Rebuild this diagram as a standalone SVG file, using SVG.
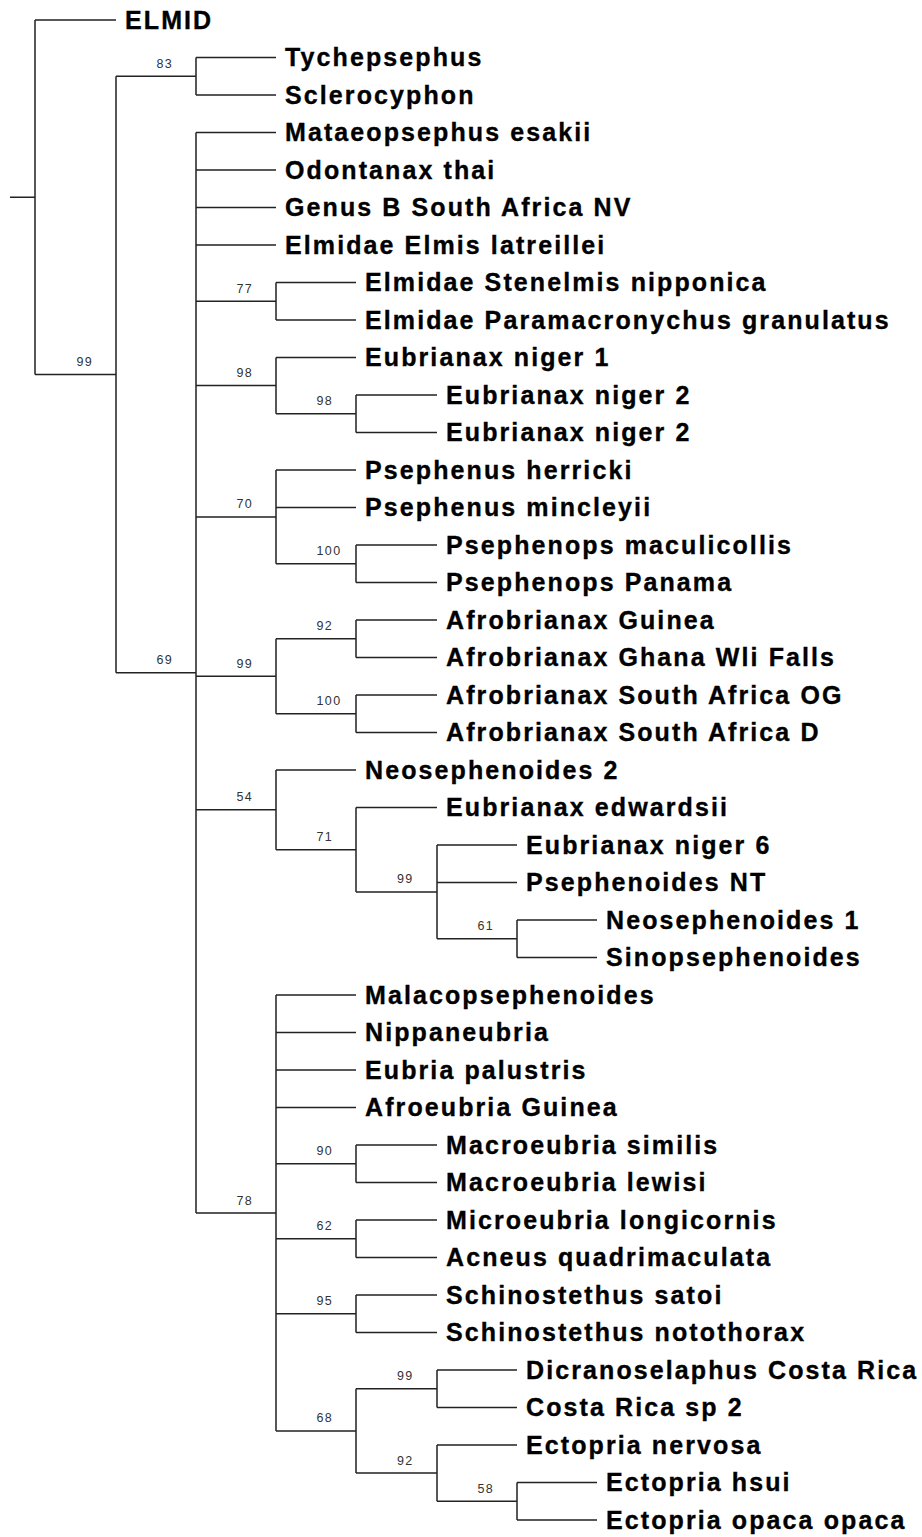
<svg xmlns="http://www.w3.org/2000/svg" width="922" height="1537" viewBox="0 0 922 1537">
<style>
.bg{fill:#fff}
.br{fill:none;stroke:#222;stroke-width:1.5}
.tx{font-family:"Liberation Sans",Arial,sans-serif;font-weight:bold;font-size:25px;letter-spacing:2.1px;fill:#000;stroke:#000;stroke-width:0.35}
.bs{font-family:"Liberation Sans",Arial,sans-serif;font-size:12.5px;letter-spacing:1.4px;fill:#333}
</style>
<rect class="bg" x="0" y="0" width="922" height="1537"/>
<g id="connectors" class="br">
<path d="M10 197.25H35M35 20V374.5M35 20H116M35 374.5H116"/>
<path d="M116 76.25V672.75M116 76.25H196M116 672.75H196"/>
<path d="M196 57.5V95M196 57.5H276M196 95H276"/>
<path d="M196 132.5V1213M196 132.5H276M196 170H276M196 207.5H276M196 245H276M196 301.25H276M196 385.6H276M196 516.9H276M196 676.25H276M196 809.8H276M196 1213H276"/>
<path d="M276 282.5V320M276 282.5H356M276 320H356"/>
<path d="M276 357.5V413.75M276 357.5H356M276 413.75H356"/>
<path d="M356 395V432.5M356 395H437M356 432.5H437"/>
<path d="M276 470V563.75M276 470H356M276 507.5H356M276 563.75H356"/>
<path d="M356 545V582.5M356 545H437M356 582.5H437"/>
<path d="M276 638.75V713.75M276 638.75H356M276 713.75H356"/>
<path d="M356 620V657.5M356 620H437M356 657.5H437"/>
<path d="M356 695V732.5M356 695H437M356 732.5H437"/>
<path d="M276 770V849.7M276 770H356M276 849.7H356"/>
<path d="M356 807.5V891.9M356 807.5H437M356 891.9H437"/>
<path d="M437 845V938.75M437 845H517M437 882.5H517M437 938.75H517"/>
<path d="M517 920V957.5M517 920H597M517 957.5H597"/>
<path d="M276 995V1430.9M276 995H356M276 1032.5H356M276 1070H356M276 1107.5H356M276 1163.75H356M276 1238.75H356M276 1313.75H356M276 1430.9H356"/>
<path d="M356 1145V1182.5M356 1145H437M356 1182.5H437"/>
<path d="M356 1220V1257.5M356 1220H437M356 1257.5H437"/>
<path d="M356 1295V1332.5M356 1295H437M356 1332.5H437"/>
<path d="M356 1388.75V1473.1M356 1388.75H437M356 1473.1H437"/>
<path d="M437 1370V1407.5M437 1370H517M437 1407.5H517"/>
<path d="M437 1445V1501.25M437 1445H517M437 1501.25H517"/>
<path d="M517 1482.5V1520M517 1482.5H597M517 1520H597"/>
</g>
<g id="support-labels" class="bs">
<g id="n-root-in"><text x="76.5" y="366">99</text></g>
<g id="n83"><text x="156.5" y="67.75">83</text></g>
<g id="n69"><text x="156.5" y="664.25">69</text></g>
<g id="n77"><text x="236.5" y="292.75">77</text></g>
<g id="n98a"><text x="236.5" y="377.1">98</text></g>
<g id="n98b"><text x="316.5" y="405.25">98</text></g>
<g id="n70"><text x="236.5" y="508.4">70</text></g>
<g id="n100a"><text x="316.5" y="555.25">100</text></g>
<g id="n99a"><text x="236.5" y="667.75">99</text></g>
<g id="n92a"><text x="316.5" y="630.25">92</text></g>
<g id="n100b"><text x="316.5" y="705.25">100</text></g>
<g id="n54"><text x="236.5" y="801.3">54</text></g>
<g id="n71"><text x="316.5" y="841.2">71</text></g>
<g id="n99c"><text x="397" y="883.4">99</text></g>
<g id="n61"><text x="477.5" y="930.25">61</text></g>
<g id="n78"><text x="236.5" y="1204.5">78</text></g>
<g id="n90"><text x="316.5" y="1155.25">90</text></g>
<g id="n62"><text x="316.5" y="1230.25">62</text></g>
<g id="n95"><text x="316.5" y="1305.25">95</text></g>
<g id="n68"><text x="316.5" y="1422.4">68</text></g>
<g id="n99d"><text x="397" y="1380.25">99</text></g>
<g id="n92b"><text x="397" y="1464.6">92</text></g>
<g id="n58"><text x="477.5" y="1492.75">58</text></g>
</g>
<g id="leaves" class="tx">
<g id="t0"><text x="125" y="28.5">ELMID</text></g>
<g id="t1"><text x="285" y="66">Tychepsephus</text></g>
<g id="t2"><text x="285" y="103.5">Sclerocyphon</text></g>
<g id="t3"><text x="285" y="141">Mataeopsephus esakii</text></g>
<g id="t4"><text x="285" y="178.5">Odontanax thai</text></g>
<g id="t5"><text x="285" y="216">Genus B South Africa NV</text></g>
<g id="t6"><text x="285" y="253.5">Elmidae Elmis latreillei</text></g>
<g id="t7"><text x="365" y="291">Elmidae Stenelmis nipponica</text></g>
<g id="t8"><text x="365" y="328.5">Elmidae Paramacronychus granulatus</text></g>
<g id="t9"><text x="365" y="366">Eubrianax niger 1</text></g>
<g id="t10"><text x="446" y="403.5">Eubrianax niger 2</text></g>
<g id="t11"><text x="446" y="441">Eubrianax niger 2</text></g>
<g id="t12"><text x="365" y="478.5">Psephenus herricki</text></g>
<g id="t13"><text x="365" y="516">Psephenus mincleyii</text></g>
<g id="t14"><text x="446" y="553.5">Psephenops maculicollis</text></g>
<g id="t15"><text x="446" y="591">Psephenops Panama</text></g>
<g id="t16"><text x="446" y="628.5">Afrobrianax Guinea</text></g>
<g id="t17"><text x="446" y="666">Afrobrianax Ghana Wli Falls</text></g>
<g id="t18"><text x="446" y="703.5">Afrobrianax South Africa OG</text></g>
<g id="t19"><text x="446" y="741">Afrobrianax South Africa D</text></g>
<g id="t20"><text x="365" y="778.5">Neosephenoides 2</text></g>
<g id="t21"><text x="446" y="816">Eubrianax edwardsii</text></g>
<g id="t22"><text x="526" y="853.5">Eubrianax niger 6</text></g>
<g id="t23"><text x="526" y="891">Psephenoides NT</text></g>
<g id="t24"><text x="606" y="928.5">Neosephenoides 1</text></g>
<g id="t25"><text x="606" y="966">Sinopsephenoides</text></g>
<g id="t26"><text x="365" y="1003.5">Malacopsephenoides</text></g>
<g id="t27"><text x="365" y="1041">Nippaneubria</text></g>
<g id="t28"><text x="365" y="1078.5">Eubria palustris</text></g>
<g id="t29"><text x="365" y="1116">Afroeubria Guinea</text></g>
<g id="t30"><text x="446" y="1153.5">Macroeubria similis</text></g>
<g id="t31"><text x="446" y="1191">Macroeubria lewisi</text></g>
<g id="t32"><text x="446" y="1228.5">Microeubria longicornis</text></g>
<g id="t33"><text x="446" y="1266">Acneus quadrimaculata</text></g>
<g id="t34"><text x="446" y="1303.5">Schinostethus satoi</text></g>
<g id="t35"><text x="446" y="1341">Schinostethus notothorax</text></g>
<g id="t36"><text x="526" y="1378.5">Dicranoselaphus Costa Rica</text></g>
<g id="t37"><text x="526" y="1416">Costa Rica sp 2</text></g>
<g id="t38"><text x="526" y="1453.5">Ectopria nervosa</text></g>
<g id="t39"><text x="606" y="1491">Ectopria hsui</text></g>
<g id="t40"><text x="606" y="1528.5">Ectopria opaca opaca</text></g>
</g>
</svg>
